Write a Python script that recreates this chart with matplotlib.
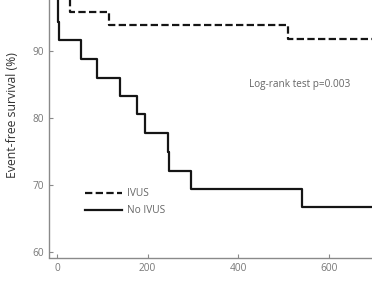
import matplotlib
matplotlib.use("Agg")
import matplotlib.pyplot as plt

# Data
ivus_days = [0, 3, 28, 115, 510, 700]
ivus_surv = [100, 97.9, 95.9, 93.9, 91.8, 91.8]
noivus_days = [0, 2, 5, 54, 89, 139, 176, 194, 245, 247, 295, 540, 700]
noivus_surv = [100, 94.4, 91.7, 88.9, 86.1, 83.3, 80.6, 77.8, 75.0, 72.2, 69.4, 66.7, 66.7]
xticks = [0, 200, 400, 600]
yticks = [60, 70, 80, 90]

plt.rcParams['font.family'] = ['Open Sans', 'DejaVu Sans']

fig = plt.figure(figsize=(3.72, 2.84), dpi=100)
ax = fig.add_axes([49.3 / 372, 1 - 257.5 / 284, 1 - 49.3 / 372, 257.5 / 284])

line_col = '#151515'
ax.step(ivus_days, ivus_surv, where='post', color=line_col, lw=1.6,
        linestyle=(0, (3.3, 1.5)), label='IVUS')
ax.step(noivus_days, noivus_surv, where='post', color=line_col, lw=1.6,
        label='No IVUS')

ax.set_xlim(-17, 695)
ax.set_ylim(59.2, 97.7)
ax.set_xticks(xticks)
ax.set_yticks(yticks)

spine_col = '#8a8a8a'
for s in ['top', 'right']:
    ax.spines[s].set_visible(False)
for s in ['left', 'bottom']:
    ax.spines[s].set_color(spine_col)
    ax.spines[s].set_linewidth(1.0)
ax.tick_params(direction='in', length=3, width=0.8, color=spine_col,
               labelcolor='#777777', labelsize=7.3, pad=4)

ax.set_ylabel('Event-free survival (%)', fontsize=8.8, color='#333333')
ax.yaxis.set_label_coords(-0.094, 0.553)

ax.text(0.775, 0.67, 'Log-rank test p=0.003', transform=ax.transAxes,
        fontsize=7.2, color='#666666', ha='center', va='center')

leg = ax.legend(loc='upper left', bbox_to_anchor=(85 / 372, 1 - 188.5 / 284),
                bbox_transform=fig.transFigure, frameon=False, fontsize=7.3,
                handlelength=3.6, handletextpad=0.5, labelspacing=0.55,
                borderpad=0, borderaxespad=0)
for t in leg.get_texts():
    t.set_color('#666666')

fig.savefig('out.png', dpi=100)
